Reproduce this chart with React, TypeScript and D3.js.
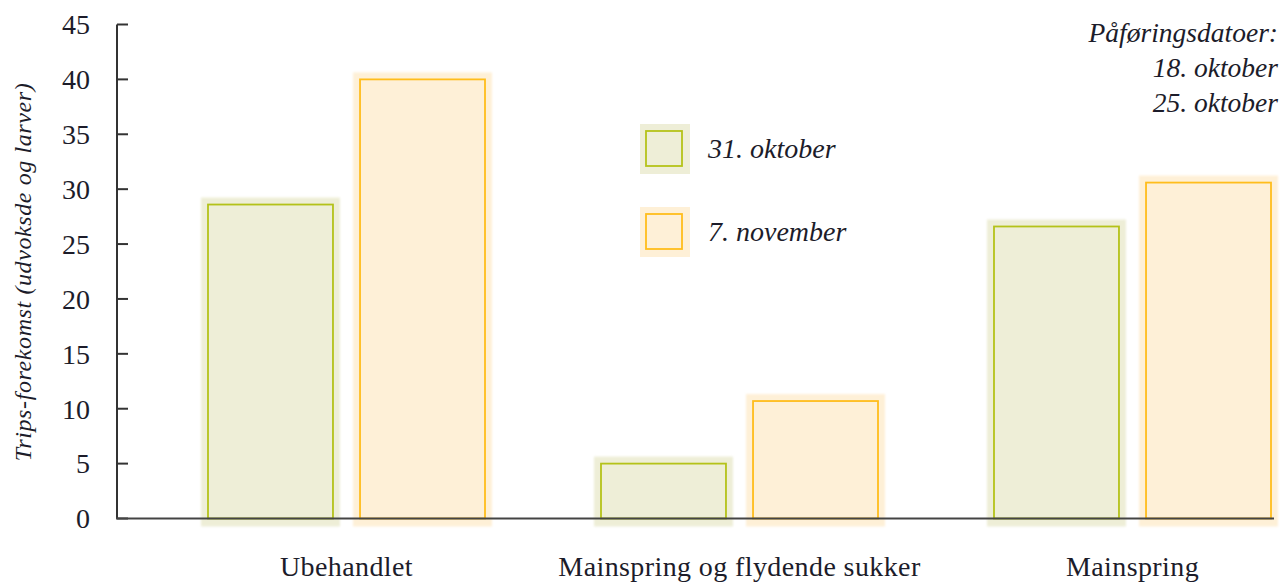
import React from "react";
import * as d3 from "d3";

const categories = ["Ubehandlet", "Mainspring og flydende sukker", "Mainspring"];
const seriesNames = ["31. oktober", "7. november"];
const oct31 = [28.6, 5.0, 26.6];
const nov7 = [40.0, 10.7, 30.6];
const yTicks = [0, 5, 10, 15, 20, 25, 30, 35, 40, 45];
const noteLines = ["Påføringsdatoer:", "18. oktober", "25. oktober"];
const yTitle = "Trips-forekomst (udvoksde og larver)";

const W = 1284;
const H = 583;
const strokeColors = ["#b4c21a", "#ffbd1c"];
const fillColors = ["#eeeed7", "#fef0d7"];
const serif = "'Liberation Serif', 'DejaVu Serif', serif";
const textColor = "#1c1c2a";

export default function App() {
  const axisX = 117;
  const axisRight = 1274;
  const y = d3.scaleLinear().domain([0, 45]).range([518.5, 24.5]);
  const xGroup = d3.scalePoint<string>().domain(categories).range([346.5, 1132.5]);
  const xInner = d3
    .scaleBand<number>()
    .domain([0, 1])
    .range([-138.5, 138.5])
    .paddingInner(0.178)
    .paddingOuter(0);
  const series = [oct31, nov7];
  const glow = 7;

  return (
    <svg width={W} height={H} style={{ position: "absolute", left: 0, top: 0, background: "#fff" }}>
      <defs>
        <filter id="soft" x="-10%" y="-10%" width="120%" height="120%">
          <feGaussianBlur stdDeviation="0.8" />
        </filter>
      </defs>
      {/* bars */}
      {categories.map((c, ci) =>
        series.map((vals, si) => {
          const x0 = (xGroup(c) as number) + (xInner(si) as number);
          const bw = xInner.bandwidth();
          const yt = y(vals[ci]);
          const yb = y(0);
          return (
            <g key={c + si}>
              <rect
                x={x0 - glow}
                y={yt - glow}
                width={bw + 2 * glow}
                height={yb - yt + 2 * glow + 1}
                fill={fillColors[si]}
                filter="url(#soft)"
              />
              <rect
                x={x0}
                y={yt}
                width={bw}
                height={yb - yt}
                fill={fillColors[si]}
                stroke={strokeColors[si]}
                strokeWidth={1.8}
              />
            </g>
          );
        })
      )}
      {/* y axis */}
      <line x1={axisX} x2={axisX} y1={y(45)} y2={y(0)} stroke="#333" strokeWidth={2} />
      {yTicks.map((t) => (
        <g key={t}>
          <line x1={axisX} x2={axisX + 11} y1={y(t)} y2={y(t)} stroke="#333" strokeWidth={2} />
          <text
            x={90}
            y={y(t)}
            dy="0.35em"
            textAnchor="end"
            fontFamily={serif}
            fontSize={28}
            fill={textColor}
          >
            {t}
          </text>
        </g>
      ))}
      {/* x axis */}
      <line x1={axisX - 1} x2={axisRight} y1={y(0)} y2={y(0)} stroke="#444" strokeWidth={2} />
      {categories.map((c) => (
        <text
          key={c}
          x={xGroup(c) as number}
          y={576}
          textAnchor="middle"
          fontFamily={serif}
          fontSize={28}
          letterSpacing={0.4}
          fill={textColor}
        >
          {c}
        </text>
      ))}
      {/* y title */}
      <text
        transform={`translate(31, ${272}) rotate(-90)`}
        textAnchor="middle"
        fontFamily={serif}
        fontStyle="italic"
        fontSize={24}
        letterSpacing={0.6}
        fill={textColor}
      >
        {yTitle}
      </text>
      {/* legend */}
      {seriesNames.map((s, i) => {
        const by = 131 + i * 83;
        return (
          <g key={s}>
            <rect x={640} y={by - 7} width={50} height={50} fill={fillColors[i]} />
            <rect
              x={646}
              y={by}
              width={36}
              height={35}
              fill={fillColors[i]}
              stroke={strokeColors[i]}
              strokeWidth={1.8}
            />
            <text
              x={708}
              y={by + 27}
              fontFamily={serif}
              fontStyle="italic"
              fontSize={28}
              fill={textColor}
            >
              {s}
            </text>
          </g>
        );
      })}
      {/* annotation */}
      {noteLines.map((l, i) => (
        <text
          key={l}
          x={1278}
          y={42 + i * 35}
          textAnchor="end"
          fontFamily={serif}
          fontStyle="italic"
          fontSize={27.5}
          fill={textColor}
        >
          {l}
        </text>
      ))}
    </svg>
  );
}
